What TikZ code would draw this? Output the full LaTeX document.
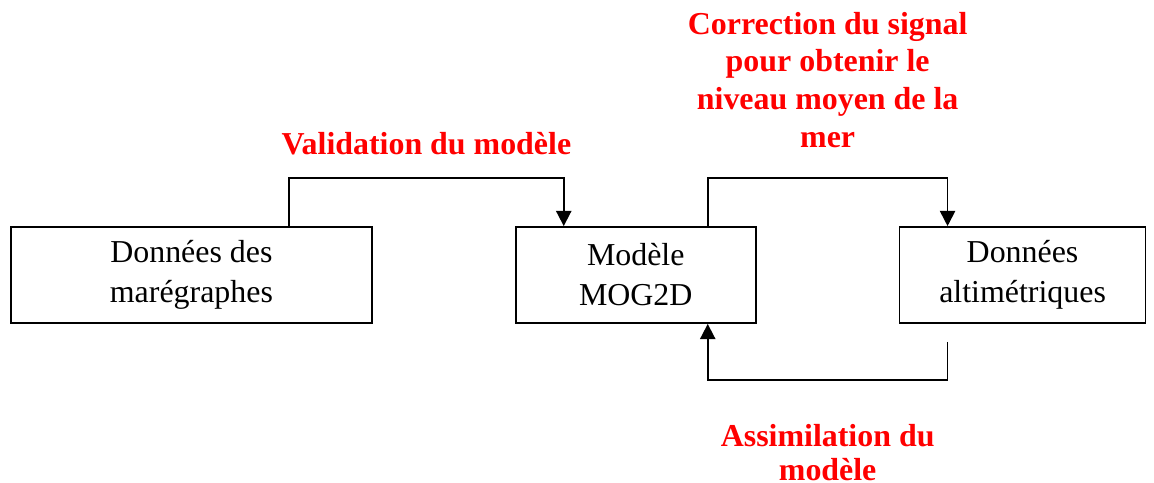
\documentclass[tikz,border=0pt]{standalone}
\usepackage{fontspec}
\setmainfont{Liberation Serif}
\usetikzlibrary{positioning}
\usetikzlibrary{calc}
\usetikzlibrary{arrows.meta}
\tikzset{
    % Solid filled heads, as in the original drawing
    >={Triangle[width=3.8mm,length=3.8mm]},
%
    % Plain framed box for a data source or the model
    block/.style={
        draw, line width=1.3pt, rectangle, align=center,
        minimum height=24mm, inner sep=0,
        font=\fontsize{22.7}{28.5}\selectfont},
%
    % Elbow connectors between the boxes
    flow/.style={line width=1.3pt, ->},
%
    % Bold red captions next to the connectors
    caption text/.style={
        text=red, align=center, inner sep=0,
        font=\bfseries\fontsize{22.7}{26.8}\selectfont},
    % the lower caption is set a little tighter
    tight caption/.style={caption text,
        font=\bfseries\fontsize{22.7}{24.2}\selectfont}}

\begin{document}
\begin{tikzpicture}

% Page frame

\path % [draw, thick]
    (0,0) rectangle (288.5mm,-120.75mm);

\node [block, minimum width=90.25mm, anchor=west] (marg) at (2.5mm,-68.75mm)
    {Données des\\marégraphes};
\node [block, minimum width=60mm, right=35.5mm of marg] (mog)
    {Modèle\\MOG2D};
\node [block, minimum width=61.5mm, right=35.5mm of mog] (alti)
    {Données\\altimétriques};

\draw [flow] ([xshift=24.4mm]marg.north) -- ++(0,12mm)
    -| node [pos=0.25, above=5.5mm, caption text] {Validation du modèle}
    ([xshift=-18mm]mog.north);

\draw [flow] ([xshift=18mm]mog.north) -- ++(0,12mm)
    -| node [pos=0.25, above=7.4mm, caption text]
        {Correction du signal\\pour obtenir le\\niveau moyen de la\\mer}
    ([xshift=-18.75mm]alti.north);

\draw [flow] ([xshift=-18.75mm, yshift=-4.5mm]alti.south) -- ++(0,-9.5mm)
    -| node [pos=0.25, below=11mm, tight caption]
        {Assimilation du\\modèle}
    ([xshift=18mm]mog.south);

\end{tikzpicture}
\end{document}
